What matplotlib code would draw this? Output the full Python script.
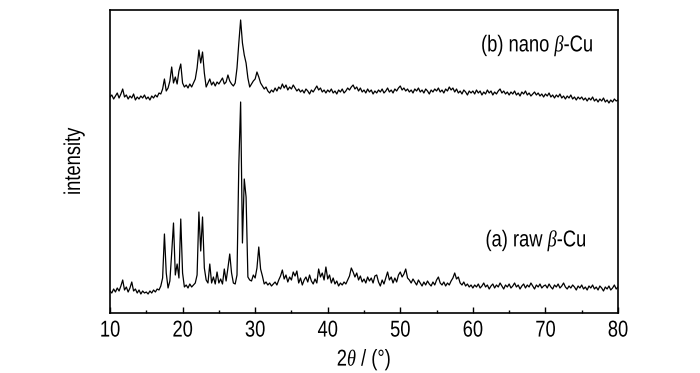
import numpy as np
import matplotlib
matplotlib.use("Agg")
import matplotlib.pyplot as plt
from matplotlib.ticker import MultipleLocator
from matplotlib.patheffects import AbstractPathEffect
from matplotlib.transforms import Affine2D

# 2theta grid (degrees), 0.25 deg step from 10 to 80
two_theta = np.arange(10.0, 80.001, 0.25)

# (a) raw beta-Cu, intensity (a.u., as displayed)
raw_beta_cu = [
    22, 20, 24, 21, 25, 22, 27, 33, 23, 26, 21, 25, 31, 22, 24, 20, 23, 19, 22, 20,
    21, 19, 22, 20, 23, 21, 24, 23, 27, 35, 79, 40, 25, 32, 60, 90, 38, 49, 35, 94,
    40, 26, 28, 25, 29, 26, 28, 30, 38, 101, 62, 96, 45, 33, 30, 49, 30, 36, 29, 41,
    30, 34, 29, 44, 32, 45, 59, 40, 30, 29, 38, 148, 211, 70, 134, 116, 36, 33, 32, 38,
    35, 45, 66, 44, 37, 29, 31, 28, 30, 27, 29, 31, 28, 33, 37, 43, 34, 38, 31, 36,
    33, 41, 37, 42, 30, 35, 28, 33, 36, 31, 38, 32, 29, 34, 30, 44, 36, 40, 33, 46,
    34, 38, 30, 35, 29, 32, 27, 30, 28, 31, 29, 33, 37, 45, 41, 36, 40, 33, 37, 31,
    34, 30, 36, 32, 35, 30, 37, 38, 31, 27, 33, 29, 35, 41, 33, 36, 30, 35, 31, 38,
    41, 36, 39, 44, 35, 33, 30, 34, 31, 28, 33, 30, 27, 31, 28, 32, 29, 27, 31, 28,
    33, 36, 30, 28, 31, 27, 30, 28, 32, 35, 40, 34, 36, 30, 28, 31, 27, 29, 26, 28,
    25, 28, 26, 29, 25, 27, 30, 26, 28, 24, 27, 29, 25, 28, 26, 30, 27, 24, 28, 26,
    29, 25, 27, 30, 26, 28, 24, 27, 29, 25, 28, 26, 30, 27, 24, 28, 26, 29, 25, 27,
    28, 25, 29, 26, 24, 28, 26, 29, 25, 27, 30, 26, 24, 27, 25, 28, 26, 23, 27, 25,
    28, 24, 26, 23, 27, 25, 28, 24, 26, 23, 27, 25, 22, 26, 24, 27, 23, 25, 28, 24,
    26,
]

# (b) nano beta-Cu, intensity (a.u., as displayed)
nano_beta_cu = [
    216, 218, 214, 217, 220, 215, 219, 224, 216, 218, 214, 217, 215, 219, 213, 216, 214, 217, 215, 218,
    214, 216, 213, 217, 215, 218, 216, 220, 219, 224, 234, 222, 225, 232, 246, 230, 236, 229, 242, 249,
    230, 226, 228, 225, 229, 226, 230, 234, 245, 263, 250, 261, 240, 226, 230, 234, 228, 231, 227, 231,
    229, 232, 235, 229, 231, 238, 232, 229, 227, 230, 245, 270, 293, 270, 258, 250, 235, 226, 229, 232,
    234, 241, 236, 230, 227, 224, 226, 222, 220, 223, 221, 225, 222, 226, 224, 229, 225, 228, 223, 226,
    224, 228, 225, 222, 224, 221, 223, 220, 224, 222, 219, 223, 221, 224, 227, 223, 225, 221, 223, 220,
    223, 221, 224, 220, 222, 219, 223, 221, 224, 220, 222, 225, 223, 226, 228, 224, 226, 222, 225, 221,
    223, 220, 224, 221, 223, 219, 222, 220, 223, 221, 224, 220, 222, 225, 221, 223, 220, 224, 222, 225,
    227, 223, 225, 222, 224, 221, 223, 220, 224, 222, 225, 221, 223, 220, 224, 222, 219, 223, 221, 224,
    222, 225, 221, 223, 220, 224, 222, 226, 223, 225, 221, 224, 220, 222, 219, 223, 221, 218, 222, 220,
    222, 219, 223, 220, 222, 218, 221, 219, 223, 220, 222, 218, 221, 219, 222, 224, 220, 222, 219, 221,
    218, 221, 219, 222, 218, 220, 217, 221, 219, 222, 218, 220, 217, 219, 221, 218, 220, 217, 219, 216,
    219, 217, 220, 216, 218, 215, 218, 216, 219, 215, 217, 214, 217, 215, 218, 214, 216, 213, 216, 214,
    216, 213, 215, 212, 215, 213, 216, 212, 214, 211, 214, 212, 215, 211, 213, 210, 213, 211, 214, 212,
    213,
]

x_ticks = [10, 20, 30, 40, 50, 60, 70, 80]
label_a = "(a) raw $\\beta$-Cu"
label_b = "(b) nano $\\beta$-Cu"


class HStretch(AbstractPathEffect):
    """Condense glyphs horizontally about the text's centre (narrow font look)."""

    def __init__(self, sx=0.8):
        super().__init__()
        self.sx = sx

    def draw_path(self, renderer, gc, tpath, affine, rgbFace=None):
        ext = tpath.get_extents()
        cx = 0.5 * (ext.x0 + ext.x1)
        t = Affine2D().translate(-cx, 0).scale(self.sx, 1).translate(cx, 0) + affine
        renderer.draw_path(gc, tpath, t, rgbFace)


plt.rcParams['font.family'] = ['Liberation Sans', 'DejaVu Sans']
plt.rcParams['mathtext.fontset'] = 'custom'
plt.rcParams['mathtext.it'] = 'Liberation Serif:italic'
plt.rcParams['mathtext.rm'] = 'Liberation Sans'

FS = 16.5
SX = 0.8

fig = plt.figure(figsize=(7.0, 3.73), dpi=100)
ax = fig.add_axes([110 / 700, 60 / 373, 508 / 700, 303 / 373])

ax.plot(two_theta, raw_beta_cu, color='black', lw=0.9)
ax.plot(two_theta, nano_beta_cu, color='black', lw=0.9)

ax.set_xlim(10, 80)
ax.set_ylim(0, 303)
ax.set_xticks(x_ticks)
ax.xaxis.set_minor_locator(MultipleLocator(5))
ax.set_yticks([])
ax.tick_params(axis='x', which='major', direction='in', length=4, width=1, labelsize=FS, pad=4)
ax.tick_params(axis='x', which='minor', direction='in', length=2.5, width=1)
for s in ax.spines.values():
    s.set_linewidth(1.2)

for lab in ax.get_xticklabels():
    lab.set_path_effects([HStretch(SX)])

xl = ax.set_xlabel("2$\\theta$ / (°)", fontsize=FS, labelpad=3)
yl = ax.set_ylabel("intensity", fontsize=FS, labelpad=18)
xl.set_path_effects([HStretch(SX)])
yl.set_path_effects([HStretch(SX)])

tb = ax.text(59.2, 268, label_b, fontsize=FS, va='center', ha='left')
ta = ax.text(60.0, 73, label_a, fontsize=FS, va='center', ha='left')
tb.set_path_effects([HStretch(SX)])
ta.set_path_effects([HStretch(SX)])

fig.savefig("out.png", dpi=100)
